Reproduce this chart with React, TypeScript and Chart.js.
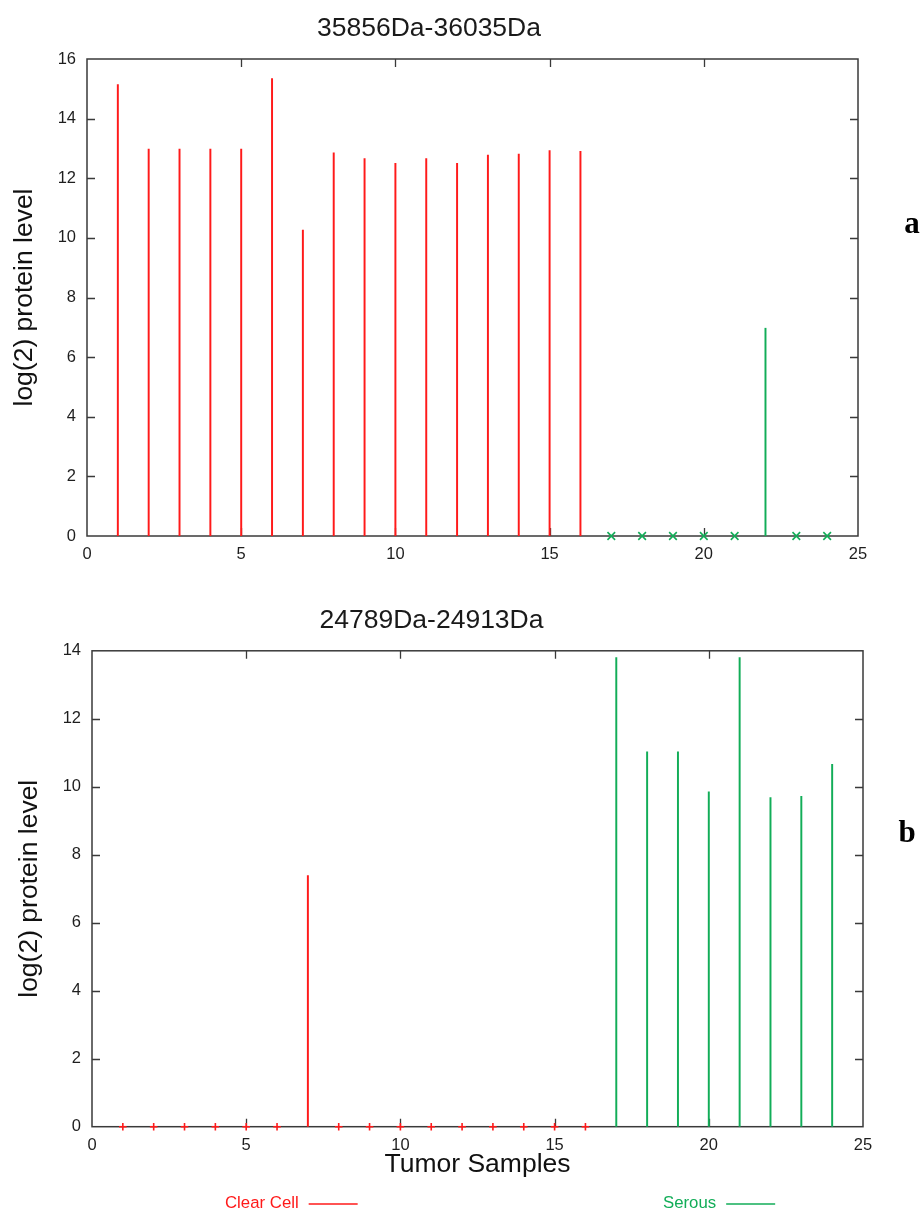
import React, { useEffect, useRef } from "react";
import { Chart, registerables } from "chart.js";

Chart.register(...registerables);

// Tumor sample index (x) for each group
const clearCellSamples = [1, 2, 3, 4, 5, 6, 7, 8, 9, 10, 11, 12, 13, 14, 15, 16];
const serousSamples = [17, 18, 19, 20, 21, 22, 23, 24];

// Peak 35856Da-36035Da, log(2) protein level
const clearCellA = [15.14, 12.98, 12.98, 12.98, 12.98, 15.34, 10.26, 12.85, 12.66, 12.5, 12.66, 12.5, 12.78, 12.81, 12.93, 12.9];
const serousA = [0, 0, 0, 0, 0, 6.97, 0, 0];

// Peak 24789Da-24913Da, log(2) protein level
const clearCellB = [0, 0, 0, 0, 0, 0, 7.39, 0, 0, 0, 0, 0, 0, 0, 0, 0];
const serousB = [13.8, 11.03, 11.03, 9.85, 13.8, 9.68, 9.72, 10.66];

const xTicks = [0, 5, 10, 15, 20, 25];

const RED = "#ff1a1a";
const GREEN = "#12ad58";
const FONT = "'Liberation Sans', Arial, Helvetica, sans-serif";

const toPoints = (xs: number[], ys: number[]) => xs.map((x, i) => ({ x, y: ys[i] }));

// Gnuplot-like frame: box border with inward ticks on all four sides,
// plus the panel letter and the key below the lower panel.
const framePlugin = {
  id: "frame",
  beforeDatasetsDraw(chart: any) {
    const { ctx, chartArea: a, scales } = chart;
    const xs = scales.x;
    const ys = scales.y;
    const tl = 8;
    ctx.save();
    ctx.strokeStyle = "#3a3a3a";
    ctx.lineWidth = 1.5;
    ctx.strokeRect(a.left, a.top, a.right - a.left, a.bottom - a.top);
    ctx.lineWidth = 1.3;
    ctx.beginPath();
    xs.ticks.forEach((t: any) => {
      if (t.value <= xs.min || t.value >= xs.max) return;
      const px = Math.round(xs.getPixelForValue(t.value)) + 0.5;
      ctx.moveTo(px, a.bottom);
      ctx.lineTo(px, a.bottom - tl);
      ctx.moveTo(px, a.top);
      ctx.lineTo(px, a.top + tl);
    });
    ys.ticks.forEach((t: any) => {
      if (t.value <= ys.min || t.value >= ys.max) return;
      const py = Math.round(ys.getPixelForValue(t.value)) + 0.5;
      ctx.moveTo(a.left, py);
      ctx.lineTo(a.left + tl, py);
      ctx.moveTo(a.right, py);
      ctx.lineTo(a.right - tl, py);
    });
    ctx.stroke();
    ctx.restore();
  },
  afterDraw(chart: any) {
    const opts = chart.options.plugins.frame || {};
    const { ctx } = chart;
    ctx.save();
    if (opts.panel) {
      ctx.fillStyle = "#000";
      ctx.font = `bold 31px 'Liberation Serif', 'Times New Roman', serif`;
      ctx.textAlign = "center";
      ctx.textBaseline = "alphabetic";
      ctx.fillText(opts.panel, opts.panelX, opts.panelY);
    }
    if (opts.legend) {
      // key: label text followed by a line sample, in the series colour
      ctx.font = `16.8px ${FONT}`;
      ctx.textBaseline = "middle";
      ctx.textAlign = "left";
      opts.legend.forEach((item: any) => {
        const ds = chart.data.datasets[item.dataset];
        ctx.fillStyle = item.color;
        ctx.fillText(ds.label, item.x, item.y);
        const w = ctx.measureText(ds.label).width;
        ctx.strokeStyle = item.color;
        ctx.lineWidth = 1.5;
        ctx.beginPath();
        ctx.moveTo(item.x + w + 10, Math.round(item.y) + 1);
        ctx.lineTo(item.x + w + 59, Math.round(item.y) + 1);
        ctx.stroke();
      });
    }
    ctx.restore();
  },
};

function makeConfig(p: {
  title: string;
  red: number[];
  green: number[];
  yMax: number;
  titlePad: { top: number; bottom: number };
  yTitlePad: number;
  yWidth: number;
  xHeight: number;
  xTitle?: string;
  padding: { left: number; right: number; top: number; bottom: number };
  panel: string;
  panelX: number;
  panelY: number;
  legend?: any[];
}) {
  const redPts = toPoints(clearCellSamples, p.red);
  const greenPts = toPoints(serousSamples, p.green);
  const impulse = (label: string, data: any[], color: string) => ({
    type: "bar" as const,
    label,
    data,
    backgroundColor: color,
    borderColor: color,
    borderWidth: 0,
    barThickness: 1.3,
    grouped: false,
  });
  const zeroMarks = (label: string, data: any[], color: string, style: string, r: number) => ({
    type: "scatter" as const,
    label,
    data,
    borderColor: color,
    backgroundColor: color,
    pointStyle: style,
    borderWidth: 1.6,
    pointRadius: (c: any) => (c.raw && c.raw.y === 0 ? r : 0),
    pointHoverRadius: 0,
    showLine: false,
    clip: false,
  });
  return {
    type: "bar" as const,
    data: {
      datasets: [
        impulse("Clear Cell", redPts, RED),
        impulse("Serous", greenPts, GREEN),
        zeroMarks("Clear Cell", redPts, RED, "cross", 3.8),
        zeroMarks("Serous", greenPts, GREEN, "crossRot", 5.4),
      ],
    },
    options: {
      animation: false as const,
      responsive: false,
      maintainAspectRatio: false,
      layout: { padding: p.padding },
      plugins: {
        legend: { display: false },
        tooltip: { enabled: false },
        title: {
          display: true,
          text: p.title,
          color: "#1a1a1a",
          font: { family: FONT, size: 26.5, weight: "normal" as const, lineHeight: 1.2 },
          padding: p.titlePad,
        },
        frame: { panel: p.panel, panelX: p.panelX, panelY: p.panelY, legend: p.legend },
      } as any,
      scales: {
        x: {
          type: "linear" as const,
          min: 0,
          max: 25,
          offset: false,
          grid: { display: false, drawTicks: false },
          border: { display: false },
          afterBuildTicks: (s: any) => {
            s.ticks = xTicks.map((v) => ({ value: v }));
          },
          ticks: {
            color: "#1e1e1e",
            padding: 9,
            maxRotation: 0,
            font: { family: FONT, size: 16.5, lineHeight: 1.2 },
          },
          title: p.xTitle
            ? {
                display: true,
                text: p.xTitle,
                color: "#111",
                font: { family: FONT, size: 26.5, lineHeight: 1.2 },
                padding: { top: 0, bottom: 2 },
              }
            : { display: false },
          afterFit: (s: any) => {
            s.height = p.xHeight;
          },
        },
        y: {
          min: 0,
          max: p.yMax,
          grid: { display: false, drawTicks: false },
          border: { display: false },
          ticks: {
            stepSize: 2,
            color: "#1e1e1e",
            padding: 11,
            font: { family: FONT, size: 16.5, lineHeight: 1.2 },
          },
          title: {
            display: true,
            text: "log(2) protein level",
            color: "#111",
            font: { family: FONT, size: 26.5, lineHeight: 1.2 },
            padding: { top: p.yTitlePad, bottom: 0 },
          },
          afterFit: (s: any) => {
            s.width = p.yWidth;
          },
        },
      },
    },
    plugins: [framePlugin],
  };
}

function Panel(props: { top: number; height: number; config: any }) {
  const ref = useRef<HTMLCanvasElement | null>(null);
  useEffect(() => {
    if (!ref.current) return;
    const chart = new Chart(ref.current, props.config);
    return () => chart.destroy();
  }, []);
  return (
    <canvas
      ref={ref}
      width={920}
      height={props.height}
      style={{ position: "absolute", left: 0, top: props.top, width: 920, height: props.height }}
    />
  );
}

const configA = makeConfig({
  title: "35856Da-36035Da",
  red: clearCellA,
  green: serousA,
  yMax: 16,
  titlePad: { top: 12.5, bottom: 14.7 },
  yTitlePad: 9,
  yWidth: 87,
  xHeight: 44,
  padding: { left: 0, right: 62, top: 0, bottom: 0 },
  panel: "a",
  panelX: 912,
  panelY: 233,
});

const configB = makeConfig({
  title: "24789Da-24913Da",
  red: clearCellB,
  green: serousB,
  yMax: 14,
  titlePad: { top: 24.6, bottom: 14.4 },
  yTitlePad: 14,
  yWidth: 92,
  xHeight: 56,
  xTitle: "Tumor Samples",
  padding: { left: 0, right: 57, top: 0, bottom: 27.3 },
  panel: "b",
  panelX: 907,
  panelY: 262,
  legend: [
    { dataset: 0, x: 225, y: 623, color: RED },
    { dataset: 1, x: 663, y: 623, color: GREEN },
  ],
});

export default function App() {
  return (
    <div style={{ position: "absolute", left: 0, top: 0, width: 920, height: 1210, background: "#fff" }}>
      <Panel top={0} height={580} config={configA} />
      <Panel top={580} height={630} config={configB} />
    </div>
  );
}
